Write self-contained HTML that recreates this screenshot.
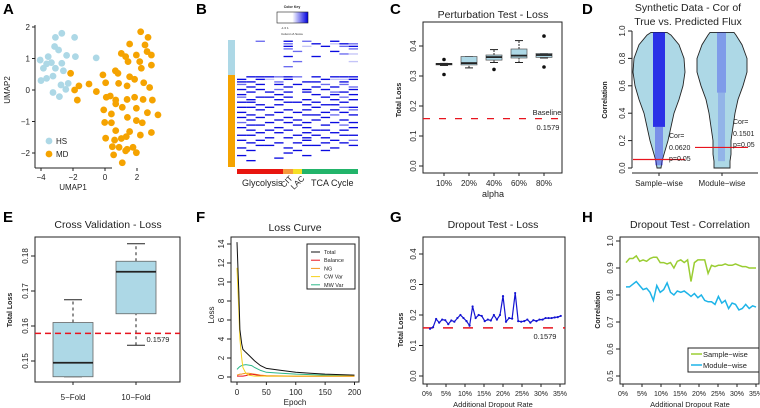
<!DOCTYPE html>
<html><head><meta charset="utf-8"><style>
html,body{margin:0;padding:0;background:#fff;width:760px;height:408px;overflow:hidden}
svg{display:block;font-family:"Liberation Sans",sans-serif}
</style></head><body>
<svg id="fig" width="760" height="408" viewBox="0 0 760 408" xmlns="http://www.w3.org/2000/svg"></svg>
<script>
// ---------- DATA ----------
const hsX=[-2.7,-3.1,-1.9,-3.15,-2.9,-3.55,-2.4,-1.85,-0.55,-4.05,-3.35,-3.65,-2.7,-3.85,-3.1,-2.6,-3.25,-3.65,-4.0,-2.3,-2.75,-2.45,-3.25,-2.85];
const hsY=[1.8,1.67,1.67,1.38,1.27,1.06,1.1,1.06,1.02,0.95,0.87,0.83,0.85,0.69,0.69,0.61,0.44,0.37,0.3,0.21,0.16,0.02,-0.08,-0.21];
const mdX=[2.23,2.69,1.54,2.5,2.63,1.02,1.29,1.96,2.9,1.44,2.17,2.9,2.27,0.65,0.81,-0.13,1.54,1.85,-2.15,-1.63,-1.9,-1.0,-0.54,0.04,0.85,2.42,1.38,2.79,-1.73,0.08,0.33,0.67,1.38,1.85,2.38,2.96,-0.08,1.08,1.96,0.67,2.65,3.31,0.4,1.4,-0.02,0.4,1.96,2.33,0.67,1.54,1.33,2.21,2.9,0.04,1.02,0.6,0.46,0.88,1.38,1.75,1.96,1.29,0.54,1.08];
const mdY=[1.85,1.67,1.46,1.43,1.22,1.16,1.06,1.11,1.11,0.9,0.9,0.79,0.69,0.61,0.53,0.48,0.42,0.34,0.53,0.13,0,0.19,-0.05,0.23,0.21,0.23,0.13,0.08,-0.32,-0.23,-0.19,-0.32,-0.3,-0.23,-0.3,-0.32,-0.63,-0.55,-0.58,-0.44,-0.72,-0.79,-0.76,-0.87,-1.03,-1.04,-0.97,-1.04,-1.29,-1.32,-1.48,-1.43,-1.35,-1.53,-1.54,-1.59,-1.8,-1.82,-1.88,-1.82,-1.99,-1.93,-2.06,-2.31];
const heatRows=["0020030200300","0000020030132","0000030103023","0000020000002","0000002000300","0000000000021","0000030030000","0000000000000","0000002000001","0000000000000","0000020000000","0000000000000","0000000000000","0000000000000",
"0333232030333","3031030003113","3300200330030","2030303002020","0300030030302","3030200303003","0303030300230","3000300030303","2033030003020","0300300300303","3300033030030","0030300303300","3303000030023","0030030300302","3000303003030","0303000330203","3030030003000","0300303030030","2003030300303","0330003003020","3000300300003","0303030033030","0030300300300","3300003030033","0003030303000","3030000300302","0300303003030","0033000330003","3000030000300","0300003003000","0000030000000","3000000300000","0000300000000","0300000000000","0000000000000","0000000000000"];
const cCats=["10%","20%","40%","60%","80%"];
const cLow=[0.335,0.327,0.345,0.345,0.36];
const cQ1=[0.337,0.337,0.353,0.36,0.362];
const cMed=[0.34,0.343,0.363,0.368,0.37];
const cQ3=[0.342,0.365,0.37,0.39,0.375];
const cHigh=[0.342,0.365,0.388,0.418,0.375];
const cOut=[[0.355,0.305],[],[0.322],[],[0.433,0.33]];
const cTicks=[0,0.1,0.2,0.3,0.4];
const baseline=0.1579;
const vLevels=[0.0,0.05,0.1,0.2,0.3,0.4,0.5,0.6,0.7,0.8,0.9,0.97,0.99];
const vSampleW=[2,3,5,9,12,15,20,24,26,25,20,12,8];
const vModuleW=[0,8,9,9,11,13,16,21,25,25,20,14,12];
const dCor=[0.062,0.1501];
const eCats=["5\u2212Fold","10\u2212Fold"];
const eLow=[0.1455,0.1545];const eQ1=[0.1455,0.1635];const eMed=[0.1495,0.1755];const eQ3=[0.161,0.1785];const eHigh=[0.1675,0.1835];
const eTicks=[0.15,0.16,0.17,0.18];
const fEpoch=[0,3,5,8,10,15,20,25,30,40,50,75,100,125,150,175,200];
const fTotal=[14.2,9,5,3.5,2.9,2.6,2.3,2.0,1.7,1.2,0.9,0.7,0.5,0.4,0.3,0.25,0.2];
const fBalance=[0.1,0.1,0.1,0.1,0.1,0.15,0.25,0.3,0.25,0.15,0.1,0.1,0.08,0.08,0.08,0.08,0.08];
const fNG=[0.2,0.25,0.3,0.3,0.35,0.4,0.4,0.35,0.3,0.2,0.15,0.12,0.1,0.1,0.1,0.1,0.1];
const fCW=[11.5,7,4,2,1.0,0.4,0.2,0.15,0.1,0.1,0.1,0.1,0.1,0.1,0.1,0.1,0.1];
const fMW=[0.8,1.0,1.1,1.2,1.25,1.3,1.25,1.2,1.0,0.7,0.5,0.4,0.3,0.25,0.2,0.17,0.15];
const fTicksY=[0,2,4,6,8,10,12,14];const fTicksX=[0,50,100,150,200];
const gRate=[0.8,1.6,2.4,3.2,4.0,4.8,5.6,6.4,7.2,8.0,8.8,9.6,10.4,11.2,12.0,12.8,13.6,14.4,15.2,16.0,16.8,17.6,18.4,19.2,20.0,20.8,21.6,22.4,23.2,24.0,24.8,25.6,26.4,27.2,28.0,28.8,29.6,30.4,31.2,32.0,32.8,33.6,34.4,35.2];
const gLoss=[0.155,0.16,0.187,0.175,0.185,0.183,0.17,0.182,0.178,0.19,0.2,0.19,0.18,0.165,0.228,0.19,0.2,0.197,0.18,0.185,0.182,0.2,0.185,0.2,0.262,0.178,0.19,0.188,0.272,0.18,0.178,0.18,0.185,0.175,0.183,0.18,0.185,0.185,0.19,0.19,0.19,0.192,0.193,0.197];
const gTicksY=[0,0.1,0.2,0.3,0.4];const pctTicks=[0,5,10,15,20,25,30,35];
const hRate=[0.8,1.7,2.6,3.5,4.4,5.3,6.2,7.1,8.0,8.9,9.8,10.7,11.6,12.5,13.4,14.3,15.2,16.1,17.0,17.9,18.8,19.7,20.6,21.5,22.4,23.3,24.2,25.1,26.0,26.9,27.8,28.7,29.6,30.5,31.4,32.3,33.2,34.1,35.0];
const hSample=[0.92,0.935,0.935,0.945,0.925,0.93,0.925,0.935,0.94,0.94,0.92,0.92,0.915,0.92,0.9,0.925,0.93,0.92,0.93,0.85,0.92,0.93,0.93,0.93,0.88,0.91,0.905,0.91,0.91,0.915,0.91,0.91,0.915,0.91,0.905,0.905,0.9,0.9,0.9];
const hModule=[0.83,0.83,0.84,0.85,0.835,0.82,0.825,0.81,0.78,0.835,0.81,0.82,0.845,0.81,0.8,0.815,0.81,0.815,0.805,0.795,0.805,0.79,0.8,0.78,0.775,0.775,0.765,0.795,0.77,0.78,0.75,0.77,0.765,0.745,0.75,0.765,0.75,0.76,0.755];
const hTicksY=[0.5,0.6,0.7,0.8,0.9,1.0];

// ---------- HELPERS ----------
const NS="http://www.w3.org/2000/svg";const svg=document.getElementById('fig');
function add(tag,attrs,name,parent){const e=document.createElementNS(NS,tag);for(const k in attrs)e.setAttribute(k,attrs[k]);


(parent||svg).appendChild(e);return e;}
function txt(x,y,s,size,name,opt){opt=opt||{};const t=add('text',{x:x,y:y,'font-size':size,'text-anchor':opt.anchor||'middle',fill:opt.fill||'#222','font-weight':opt.bold?'bold':'normal'},name);if(opt.rot)t.setAttribute('transform','rotate(-90 '+x+' '+y+')');t.textContent=s;return t;}
function line(x1,y1,x2,y2,name,st){return add('line',Object.assign({x1:x1,y1:y1,x2:x2,y2:y2,stroke:'#222','stroke-width':1},st||{}),name);}
function poly(xs,ys,name,st){let p=xs.map((x,i)=>x.toFixed(1)+','+ys[i].toFixed(1)).join(' ');return add('polyline',Object.assign({points:p,fill:'none'},st),name);}
function panelLetter(x,y,s){txt(x,y,s,15,'panel-label-'+s.toLowerCase(),{anchor:'start',bold:true,fill:'#000'});}
function yTicksRot(vals,fy,ax,name,fmt){vals.forEach(v=>{const y=fy(v);line(ax-4,y,ax,y,name+'-tick');txt(ax-7,y,fmt(v),8,name+'-label',{rot:true});});}

// ---------- A ----------
panelLetter(3,14,'A');
{const ax=u=>105+16*u, ay=u=>90-31.5*u;
line(35,25,35,168,'a-y-axis');line(35,168,112,168,'a-x-axis');
[-4,-2,0,2].forEach(v=>{line(ax(v),168,ax(v),171,'a-x-tick');txt(ax(v),180,String(v).replace('-','\u2212'),8,'a-x-tick-label');});
[2,1,0,-1,-2].forEach(v=>{line(32,ay(v),35,ay(v),'a-y-tick');txt(30,ay(v)+3,String(v).replace('-','\u2212'),8,'a-y-tick-label',{anchor:'end'});});
txt(73,190,'UMAP1',8,'a-x-axis-title');txt(10,90,'UMAP2',8,'a-y-axis-title',{rot:true});
hsX.forEach((x,i)=>add('circle',{cx:ax(x),cy:ay(hsY[i]),r:3.4,fill:'#add8e6'},'hs-point'));
mdX.forEach((x,i)=>add('circle',{cx:ax(x),cy:ay(mdY[i]),r:3.4,fill:'#f5a300'},'md-point'));
add('circle',{cx:49,cy:141,r:3.4,fill:'#add8e6'},'legend-hs-marker');txt(56,144,'HS',8,'legend-hs-label',{anchor:'start'});
add('circle',{cx:49,cy:154,r:3.4,fill:'#f5a300'},'legend-md-marker');txt(56,157,'MD',8,'legend-md-label',{anchor:'start'});}

// ---------- B ----------
panelLetter(196,14,'B');
{const defs=add('defs',{},'defs');const g=add('linearGradient',{id:'ck',x1:0,x2:1,y1:0,y2:0},'color-key-gradient',defs);
add('stop',{offset:'0','stop-color':'#fff'},'stop',g);add('stop',{offset:'0.5','stop-color':'#fff'},'stop',g);add('stop',{offset:'1','stop-color':'#0000e0'},'stop',g);
txt(292,8,'Color Key',3.5,'color-key-title',{bold:true});
add('rect',{x:277,y:12,width:31,height:11,fill:'url(#ck)',stroke:'#222','stroke-width':0.6},'color-key');
txt(281,29,'-1  0  1',3,'color-key-ticks',{anchor:'start'});txt(292,35,'Column Z-Score',3,'color-key-label');
add('rect',{x:228,y:40,width:7,height:35,fill:'#add8e6'},'hs-sidebar');add('rect',{x:228,y:75,width:7,height:92,fill:'#f5a300'},'md-sidebar');
const cols=13,x0=237,cw=121/13,y0=40,rh=127/heatRows.length,col=['#fff','#c4c4f8','#6a6af0','#0a0ae0'];
heatRows.forEach((r,i)=>{for(let j=0;j<cols;j++){const v=+r[j];if(v>0)add('rect',{x:x0+j*cw,y:y0+i*rh+0.6,width:cw,height:rh-1.2,fill:col[v]},'heatmap-cell');}});
add('rect',{x:237,y:169,width:46,height:5,fill:'#e8150f'},'glycolysis-bar');add('rect',{x:283,y:169,width:10,height:5,fill:'#f59a3c'},'cit-bar');
add('rect',{x:293,y:169,width:9,height:5,fill:'#f5e025'},'lac-bar');add('rect',{x:302,y:169,width:56,height:5,fill:'#22b46a'},'tca-bar');
txt(242,186,'Glycolysis',9,'glycolysis-label',{anchor:'start'});
const c=txt(284,188,'CIT',8,'cit-label',{anchor:'start'});c.setAttribute('transform','rotate(-45 284 188)');
const l=txt(294,190,'LAC',8,'lac-label',{anchor:'start'});l.setAttribute('transform','rotate(-45 294 190)');
txt(311,186,'TCA Cycle',9,'tca-label',{anchor:'start'});}

// ---------- C ----------
panelLetter(390,14,'C');
{const cy=v=>166-300*v, cx=i=>444+25*i;
txt(493,18,'Perturbation Test - Loss',10.5,'c-title');
add('rect',{x:423,y:22,width:139,height:151,fill:'none',stroke:'#222'},'c-plot-frame');
yTicksRot(cTicks,cy,423,'c-y',v=>v.toFixed(1));
txt(401,100,'Total Loss',7,'c-y-axis-title',{rot:true,bold:true});
cCats.forEach((c,i)=>{const x=cx(i);line(x,173,x,176,'c-x-tick');txt(x,186,c,8,'c-x-tick-label');
line(x,cy(cLow[i]),x,cy(cQ1[i]),'c-whisker',{'stroke-dasharray':'2,1'});line(x,cy(cQ3[i]),x,cy(cHigh[i]),'c-whisker',{'stroke-dasharray':'2,1'});
line(x-4,cy(cLow[i]),x+4,cy(cLow[i]),'c-whisker-cap');line(x-4,cy(cHigh[i]),x+4,cy(cHigh[i]),'c-whisker-cap');
add('rect',{x:x-8,y:cy(cQ3[i]),width:16,height:Math.max(0.5,cy(cQ1[i])-cy(cQ3[i])),fill:'#add8e6',stroke:'#555','stroke-width':0.7},'c-box-'+c);
line(x-8,cy(cMed[i]),x+8,cy(cMed[i]),'c-median',{'stroke-width':1.8});
cOut[i].forEach(o=>add('circle',{cx:x,cy:cy(o),r:1.8,fill:'#111'},'c-outlier'));});
txt(493,197,'alpha',9,'c-x-axis-title');
line(423,cy(baseline),562,cy(baseline),'c-baseline',{stroke:'#e8141e','stroke-width':1.2,'stroke-dasharray':'7,9'});
txt(547,115,'Baseline',7.5,'c-baseline-label');txt(548,130,'0.1579',7.5,'c-baseline-value');}

// ---------- D ----------
panelLetter(582,14,'D');
{const dy=v=>168-137*v;
txt(688,11,'Synthetic Data - Cor of',10.5,'d-title-line1');txt(688,25,'True vs. Predicted Flux',10.5,'d-title-line2');
line(632,dy(0),632,dy(1),'d-y-axis');line(632,173,758,173,'d-x-axis');
yTicksRot([0,0.2,0.4,0.6,0.8,1.0],dy,632,'d-y',v=>v.toFixed(1));
txt(607,100,'Correlation',7,'d-y-axis-title',{rot:true,bold:true});
function violin(cx,ws,name){let pts=[];vLevels.forEach((v,i)=>pts.push([cx+ws[i],dy(v)]));for(let i=vLevels.length-1;i>=0;i--)pts.push([cx-ws[i],dy(vLevels[i])]);
const d='M'+pts.map(p=>p[0].toFixed(1)+','+p[1].toFixed(1)).join(' L')+' Z';add('path',{d:d,fill:'#add8e6',stroke:'#222','stroke-width':0.9},name);}
violin(659,vSampleW,'sample-wise-violin');
violin(722,vModuleW.map((w,i)=>i==0?8:w),'module-wise-violin');
add('rect',{x:653,y:dy(0.99),width:12,height:dy(0.3)-dy(0.99),fill:'#1414e6',opacity:0.85},'sample-wise-points');
add('rect',{x:655,y:dy(0.3),width:8,height:dy(0.02)-dy(0.3),fill:'#3a3aee',opacity:0.45},'sample-wise-points-sparse');
add('rect',{x:717,y:dy(0.99),width:9,height:dy(0.55)-dy(0.99),fill:'#2a2aee',opacity:0.35},'module-wise-points');
add('rect',{x:718,y:dy(0.55),width:7,height:dy(0.05)-dy(0.55),fill:'#2a2aee',opacity:0.2},'module-wise-points-sparse');
[659,722].forEach(x=>line(x,173,x,176,'d-x-tick'));
txt(659,186,'Sample\u2212wise',8,'d-x-label-sample');txt(722,186,'Module\u2212wise',8,'d-x-label-module');
line(633,dy(dCor[0]),685,dy(dCor[0]),'sample-threshold-line',{stroke:'#e8141e','stroke-width':1.2});
line(695,dy(dCor[1]),748,dy(dCor[1]),'module-threshold-line',{stroke:'#e8141e','stroke-width':1.2});
txt(669,138,'Cor=',7,'d-sample-cor',{anchor:'start'});txt(669,150,'0.0620',7,'d-sample-cor-value',{anchor:'start'});txt(669,161,'p=0.05',7,'d-sample-p',{anchor:'start'});
txt(733,124,'Cor=',7,'d-module-cor',{anchor:'start'});txt(733,136,'0.1501',7,'d-module-cor-value',{anchor:'start'});txt(733,147,'p=0.05',7,'d-module-p',{anchor:'start'});}

// ---------- E ----------
panelLetter(3,222,'E');
{const ey=v=>361-(v-0.15)*3500, ex=i=>73+63*i;
txt(108,228,'Cross Validation - Loss',10.5,'e-title');
add('rect',{x:35,y:237,width:145,height:145,fill:'none',stroke:'#222'},'e-plot-frame');
yTicksRot(eTicks,ey,35,'e-y',v=>v.toFixed(2));
txt(12,310,'Total Loss',7,'e-y-axis-title',{rot:true,bold:true});
eCats.forEach((c,i)=>{const x=ex(i);line(x,382,x,385,'e-x-tick');txt(x,400,c,8,'e-x-tick-label');
line(x,ey(eLow[i]),x,ey(eQ1[i]),'e-whisker',{'stroke-dasharray':'3,3'});line(x,ey(eQ3[i]),x,ey(eHigh[i]),'e-whisker',{'stroke-dasharray':'3,3'});
line(x-9,ey(eLow[i]),x+9,ey(eLow[i]),'e-whisker-cap');line(x-9,ey(eHigh[i]),x+9,ey(eHigh[i]),'e-whisker-cap');
add('rect',{x:x-20,y:ey(eQ3[i]),width:40,height:ey(eQ1[i])-ey(eQ3[i]),fill:'#add8e6',stroke:'#666','stroke-width':0.8},'e-box-'+i);
line(x-20,ey(eMed[i]),x+20,ey(eMed[i]),'e-median',{'stroke-width':1.8});});
line(35,ey(baseline),180,ey(baseline),'e-baseline',{stroke:'#e8141e','stroke-width':1.5,'stroke-dasharray':'6,4'});
txt(158,342,'0.1579',7.5,'e-baseline-value');}

// ---------- F ----------
panelLetter(196,222,'F');
{const fy=v=>377-9.5*v, fx=e=>237+0.5875*e;
txt(295,231,'Loss Curve',10.5,'f-title');
add('rect',{x:231,y:237,width:128,height:145,fill:'none',stroke:'#222'},'f-plot-frame');
yTicksRot(fTicksY,fy,231,'f-y',v=>String(v));
fTicksX.forEach(v=>{line(fx(v),382,fx(v),385,'f-x-tick');txt(fx(v),395,String(v),8,'f-x-tick-label');});
txt(295,405,'Epoch',8,'f-x-axis-title');txt(214,315,'Loss',8,'f-y-axis-title',{rot:true});
const xs=fEpoch.map(fx);
poly(xs,fMW.map(fy),'mw-var-line',{stroke:'#2eb88a','stroke-width':1});
poly(xs,fNG.map(fy),'ng-line',{stroke:'#f5961e','stroke-width':1});
poly(xs,fBalance.map(fy),'balance-line',{stroke:'#e8141e','stroke-width':1});
poly(xs,fCW.map(fy),'cw-var-line',{stroke:'#f5d21e','stroke-width':1});
poly(xs,fTotal.map(fy),'total-line',{stroke:'#111','stroke-width':1});
add('rect',{x:307,y:244,width:48,height:45,fill:'#fff',stroke:'#222'},'f-legend');
const ln=['Total','Balance','NG','CW Var','MW Var'],lc=['#111','#e8141e','#f5961e','#f5d21e','#2eb88a'];
ln.forEach((n,i)=>{const y=252+8.2*i;line(311,y,320,y,'f-legend-swatch',{stroke:lc[i]});txt(324,y+2,n,5.5,'f-legend-label',{anchor:'start'});});}

// ---------- G ----------
panelLetter(390,222,'G');
{const gy=v=>376-305*v, gx=p=>427+3.8*p;
txt(493,228,'Dropout Test - Loss',10.5,'g-title');
add('rect',{x:423,y:237,width:142,height:147,fill:'none',stroke:'#222'},'g-plot-frame');
yTicksRot(gTicksY,gy,423,'g-y',v=>v.toFixed(1));
txt(403,330,'Total Loss',7,'g-y-axis-title',{rot:true,bold:true});
pctTicks.forEach(p=>{line(gx(p),384,gx(p),387,'g-x-tick');txt(gx(p),396,p+'%',7,'g-x-tick-label');});
txt(493,407,'Additional Dropout Rate',7.5,'g-x-axis-title');
line(423,gy(baseline),565,gy(baseline),'g-baseline',{stroke:'#e8141e','stroke-width':1.5,'stroke-dasharray':'10,10'});
txt(545,339,'0.1579',7.5,'g-baseline-value');
poly(gRate.map(gx),gLoss.map(gy),'g-loss-line',{stroke:'#1414d2','stroke-width':1.2});
gRate.forEach((r,i)=>add('circle',{cx:gx(r),cy:gy(gLoss[i]),r:1.1,fill:'#1414d2'},'g-loss-point'));}

// ---------- H ----------
panelLetter(582,222,'H');
{const hy=v=>376-270*(v-0.5), hx=p=>623+3.8*p;
txt(690,228,'Dropout Test - Correlation',10.5,'h-title');
add('rect',{x:620,y:237,width:139,height:147,fill:'none',stroke:'#222'},'h-plot-frame');
yTicksRot(hTicksY,hy,620,'h-y',v=>v.toFixed(1));
txt(600,310,'Correlation',7,'h-y-axis-title',{rot:true,bold:true});
pctTicks.forEach(p=>{line(hx(p),384,hx(p),387,'h-x-tick');txt(hx(p),396,p+'%',7,'h-x-tick-label');});
txt(690,407,'Additional Dropout Rate',7.5,'h-x-axis-title');
poly(hRate.map(hx),hSample.map(hy),'sample-wise-line',{stroke:'#9acd32','stroke-width':1.5});
poly(hRate.map(hx),hModule.map(hy),'module-wise-line',{stroke:'#1eb4e8','stroke-width':1.5});
add('rect',{x:688,y:348,width:71,height:24,fill:'#fff',stroke:'#222'},'h-legend');
line(691,354,702,354,'h-legend-sample-swatch',{stroke:'#9acd32','stroke-width':1.5});txt(703,357,'Sample\u2212wise',7.5,'h-legend-sample-label',{anchor:'start'});
line(691,365,702,365,'h-legend-module-swatch',{stroke:'#1eb4e8','stroke-width':1.5});txt(703,368,'Module\u2212wise',7.5,'h-legend-module-label',{anchor:'start'});}
</script>
</body></html>
